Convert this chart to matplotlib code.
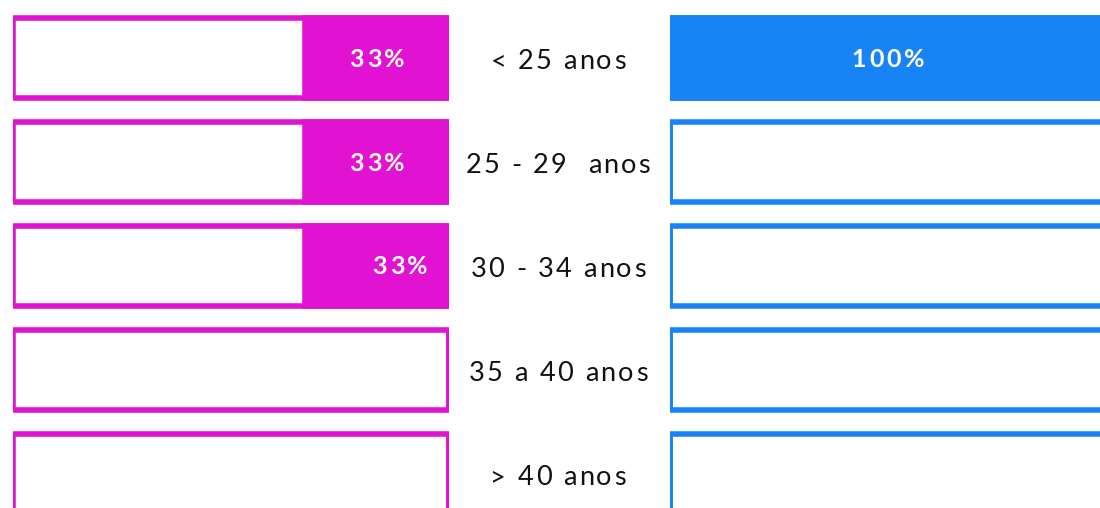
import matplotlib
matplotlib.use("Agg")
import matplotlib.pyplot as plt
from matplotlib.font_manager import FontProperties

# --- data ---
age_groups = ["< 25 anos", "25 - 29  anos", "30 - 34 anos", "35 a 40 anos", "> 40 anos"]
left_pct = [33, 33, 33, 0, 0]
right_pct = [100, 0, 0, 0, 0]

MAGENTA = "#E112D2"
BLUE = "#1883F5"
FONT = "Lato"

W, H = 1100, 508
fig = plt.figure(figsize=(W / 100, H / 100), dpi=100)
renderer = fig.canvas.get_renderer()

# rows are 104 px apart, first row centred 57.5 px below the top edge
row_px = 104.0
y_top = -57.5 / row_px
y_bot = (H - 57.5) / row_px
bar_h = 80 / row_px
lw = 4.0


def make_ax(x0_px, x1_px):
    ax = fig.add_axes([x0_px / W, 0, (x1_px - x0_px) / W, 1])
    ax.set_ylim(y_bot, y_top)
    ax.set_xlim(0, 100)
    ax.axis("off")
    return ax


def text_w(s, prop):
    # width incl. trailing spaces, measured against a bar glyph
    w1 = renderer.get_text_width_height_descent(s + "|", prop, ismath=False)[0]
    w0 = renderer.get_text_width_height_descent("|", prop, ismath=False)[0]
    return w1 - w0


def spaced_text(ax, x, y, s, size, spacing=3.0, weight="normal", color="#111111", zorder=5):
    """Letter-spaced text centred on data point (x, y) of ax (or figure if ax is None)."""
    prop = FontProperties(family=FONT, size=size, weight=weight)
    trans = ax.transData if ax is not None else fig.transFigure
    cx, cy = trans.transform((x, y))
    _, h, d = renderer.get_text_width_height_descent("0", prop, ismath=False)
    base = cy - (h - d) / 2
    total = text_w(s, prop) + spacing * (len(s) - 1)
    x0 = cx - total / 2
    for k, ch in enumerate(s):
        if ch == " ":
            continue
        px = x0 + text_w(s[:k], prop) + spacing * k
        fig.text(px / W, base / H, ch, fontproperties=prop, color=color,
                 ha="left", va="baseline", zorder=zorder)


ax_l = make_ax(13, 449)
ax_l.invert_xaxis()
ax_r = make_ax(670, 1106)

rows = list(range(len(age_groups)))

# frames
ax_l.barh(rows, [100] * len(rows), height=bar_h, color="white",
          edgecolor=MAGENTA, linewidth=lw, zorder=1)
ax_r.barh(rows, [100] * len(rows), height=bar_h, color="white",
          edgecolor=BLUE, linewidth=lw, zorder=1)

# filled shares
ax_l.barh(rows, left_pct, height=bar_h, color=MAGENTA,
          edgecolor=MAGENTA, linewidth=lw, zorder=2)
ax_r.barh(rows, right_pct, height=bar_h, color=BLUE,
          edgecolor=BLUE, linewidth=lw, zorder=2)

# value labels (third row label sits a bit closer to the axis in the original)
label_shift = [1.0, 1.0, 0.68, 1.0, 1.0]
for i, v in enumerate(left_pct):
    if v > 0:
        spaced_text(ax_l, v / 2 * label_shift[i], i, f"{v}%", 18, spacing=3.0,
                    weight="bold", color="white")
for i, v in enumerate(right_pct):
    if v > 0:
        spaced_text(ax_r, v / 2, i, f"{v}%", 18, spacing=3.0,
                    weight="bold", color="white")

# category labels in the middle
for i, name in enumerate(age_groups):
    spaced_text(None, 558 / W, 1 - (59 + i * row_px) / H, name, 19.5, spacing=2.3)

fig.savefig("out.png", dpi=100, facecolor="white")
